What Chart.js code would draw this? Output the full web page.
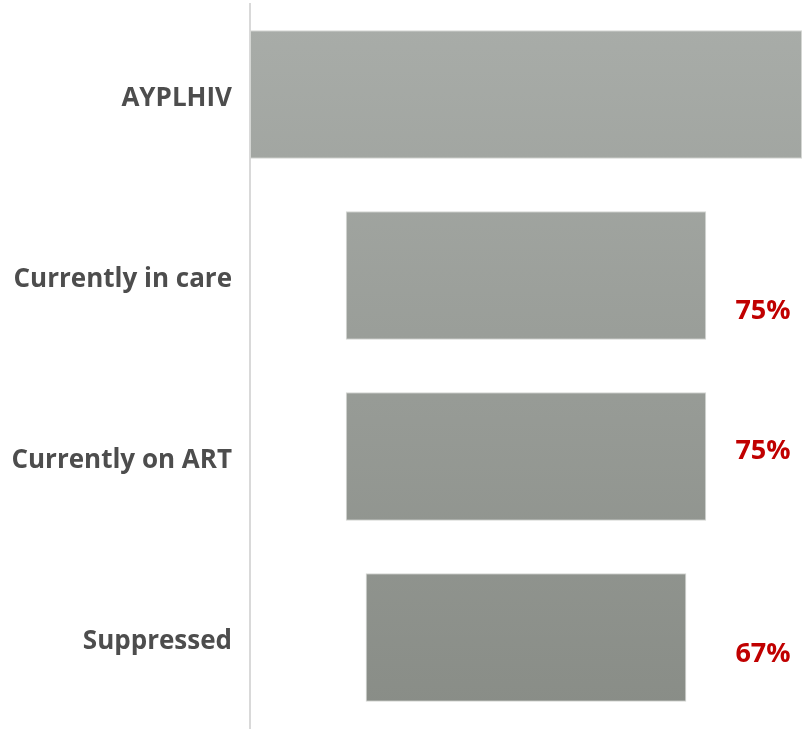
<!DOCTYPE html>
<html><head><meta charset="utf-8">
<script src="https://cdn.jsdelivr.net/npm/chart.js@4.4.1/dist/chart.umd.min.js"></script>
<style>html,body{margin:0;padding:0;background:#fff}#wrap{width:802px;height:738px}</style>
</head><body><div id="wrap"><canvas id="c" width="802" height="738"></canvas></div>
<script>
const categories = ["AYPLHIV", "Currently in care", "Currently on ART", "Suppressed"];
const barWidths = [100, 65.3, 65.3, 58.1];
const pctLabels = ["", "75%", "75%", "67%"];
const pctOffsets = [0, 36, -5, 17];

const ranges = barWidths.map(v => [(100 - v) / 2, (100 + v) / 2]);

const pctPlugin = {
  id: 'pct',
  afterDatasetsDraw(chart) {
    const ctx = chart.ctx;
    const y = chart.scales.y;
    ctx.save();
    ctx.font = 'bold 27px "Open Sans", sans-serif';
    ctx.fillStyle = '#C00000';
    ctx.textAlign = 'center';
    ctx.textBaseline = 'middle';
    pctLabels.forEach((t, i) => {
      if (!t) return;
      ctx.fillText(t, 763, y.getPixelForValue(i) + pctOffsets[i]);
    });
    ctx.restore();
  }
};

new Chart(document.getElementById('c'), {
  type: 'bar',
  data: {
    labels: categories,
    datasets: [{
      data: ranges,
      backgroundColor: (ctx) => {
        const ch = ctx.chart;
        const a = ch.chartArea;
        if (!a) return '#9a9e99';
        const g = ch.ctx.createLinearGradient(0, a.top, 0, a.bottom);
        g.addColorStop(0, '#A9ADA9');
        g.addColorStop(1, '#888C86');
        return g;
      },
      borderColor: '#D4D6D3',
      borderWidth: 1,
      borderSkipped: false,
      categoryPercentage: 1,
      barPercentage: 0.71
    }]
  },
  options: {
    indexAxis: 'y',
    responsive: false,
    animation: false,
    layout: { padding: { top: 4, bottom: 10, right: 0, left: 0 } },
    plugins: { legend: { display: false }, tooltip: { enabled: false } },
    scales: {
      x: { display: false, min: 0, max: 100 },
      y: {
        afterFit(s) { s.width = 250; s.paddingTop = 0; s.paddingBottom = 0; },
        grid: { display: false, drawTicks: false },
        border: { display: true, color: '#D9D9D9', width: 2 },
        ticks: {
          padding: 18,
          labelOffset: 4,
          color: '#4D4D4D',
          font: { family: '"Open Sans", sans-serif', weight: 'bold', size: 26 }
        }
      }
    }
  },
  plugins: [pctPlugin]
});
</script></body></html>
